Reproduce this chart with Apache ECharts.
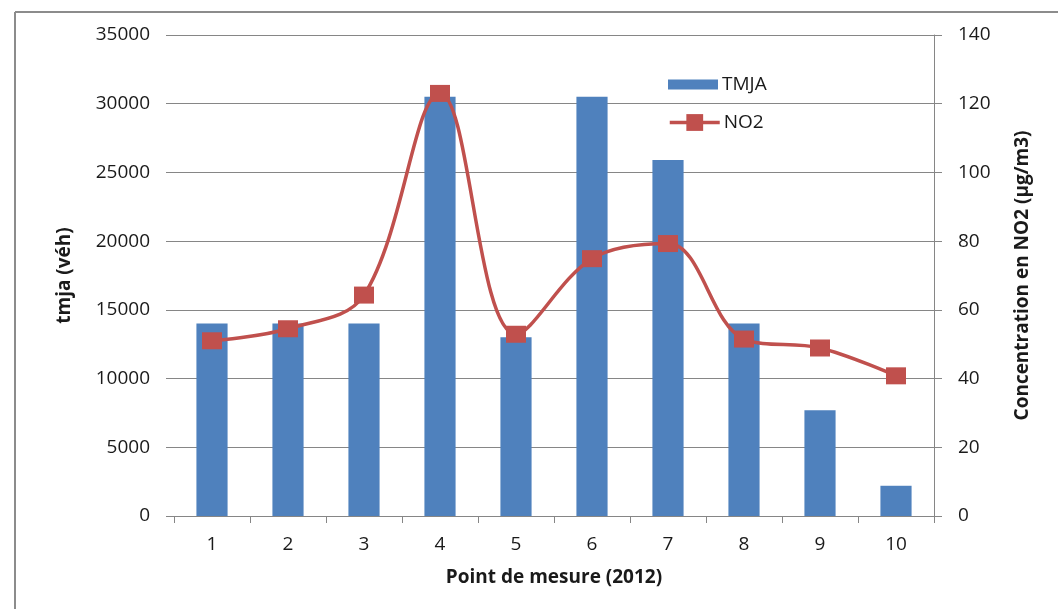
<!DOCTYPE html>
<html>
<head>
<meta charset="utf-8">
<script src="https://cdn.jsdelivr.net/npm/echarts@6/dist/echarts.min.js"></script>
<style>
  html, body { margin: 0; padding: 0; background: #ffffff; }
  #chart { width: 1058px; height: 609px; }
</style>
</head>
<body>
<div id="chart"></div>
<script>
// Measurement points (2012)
const categories = ['1', '2', '3', '4', '5', '6', '7', '8', '9', '10'];
// Average daily traffic (vehicles)
const tmja = [14000, 14000, 14000, 30500, 13000, 30500, 25900, 14000, 7700, 2200];
// NO2 concentration (µg/m3)
const no2 = [51.0, 54.5, 64.3, 123.0, 52.9, 74.9, 79.3, 51.5, 48.9, 40.8];

const FONT = '"Open Sans", "DejaVu Sans", sans-serif';
const GRID_GRAY = '#868686';
const TEXT = '#1a1a1a';
const plain = v => String(v);

const chart = echarts.init(document.getElementById('chart'), null, { renderer: 'canvas' });

chart.setOption({
  animation: false,
  backgroundColor: '#ffffff',
  textStyle: { fontFamily: FONT },
  graphic: [
    // chart frame (top and left edges)
    { type: 'line', shape: { x1: 15, y1: 12, x2: 1058, y2: 12 }, style: { stroke: '#8c8c8c', lineWidth: 2 } },
    { type: 'line', shape: { x1: 15, y1: 12, x2: 15, y2: 609 }, style: { stroke: '#8c8c8c', lineWidth: 2 } }
  ],
  grid: { left: 174, right: 124, top: 35, bottom: 93, containLabel: false },
  legend: [
    {
      data: [{ name: 'TMJA', icon: 'rect' }],
      left: 663, top: 70, orient: 'vertical',
      itemWidth: 50, itemHeight: 10, itemGap: 0,
      textStyle: { fontFamily: FONT, fontSize: 19, color: TEXT, padding: [0, 0, 0, -1] }
    },
    {
      data: ['NO2'],
      left: 663, top: 108, orient: 'vertical',
      itemWidth: 50, itemHeight: 21, itemGap: 0,
      lineStyle: { width: 3.5, color: '#C0504D' },
      textStyle: { fontFamily: FONT, fontSize: 19, color: TEXT, padding: [0, 0, 0, -1] }
    }
  ],
  xAxis: {
    type: 'category',
    data: categories,
    boundaryGap: true,
    name: 'Point de mesure (2012)',
    nameLocation: 'middle',
    nameGap: 52,
    nameTextStyle: { fontFamily: FONT, fontSize: 19, fontWeight: 'bold', color: TEXT },
    axisLine: { show: true, lineStyle: { color: GRID_GRAY, width: 1 } },
    axisTick: { show: true, length: 7, lineStyle: { color: GRID_GRAY } },
    axisLabel: { fontFamily: FONT, fontSize: 19, color: TEXT, margin: 19 },
    splitLine: { show: false }
  },
  yAxis: [
    {
      type: 'value',
      min: 0, max: 35000, interval: 5000,
      name: 'tmja (véh)',
      nameLocation: 'middle',
      nameGap: 100,
      nameRotate: 90,
      nameTextStyle: { fontFamily: FONT, fontSize: 19, fontWeight: 'bold', color: TEXT },
      axisLine: { show: false },
      axisTick: { show: true, length: 8, lineStyle: { color: GRID_GRAY } },
      axisLabel: { fontFamily: FONT, fontSize: 19, color: TEXT, margin: 24, formatter: plain },
      splitLine: { show: true, lineStyle: { color: GRID_GRAY, width: 1 } }
    },
    {
      type: 'value',
      position: 'right',
      min: 0, max: 140, interval: 20,
      name: 'Concentration en NO2 (µg/m3)',
      nameLocation: 'middle',
      nameGap: 79,
      nameRotate: 90,
      nameTextStyle: { fontFamily: FONT, fontSize: 19, fontWeight: 'bold', color: TEXT },
      axisLine: { show: true, lineStyle: { color: GRID_GRAY, width: 1 } },
      axisTick: { show: true, length: 8, lineStyle: { color: GRID_GRAY } },
      axisLabel: { fontFamily: FONT, fontSize: 19, color: TEXT, margin: 24, formatter: plain },
      splitLine: { show: false }
    }
  ],
  series: [
    {
      name: 'TMJA',
      type: 'bar',
      yAxisIndex: 0,
      data: tmja,
      barWidth: '41%',
      itemStyle: { color: '#4F81BD' }
    },
    {
      name: 'NO2',
      type: 'line',
      yAxisIndex: 1,
      data: no2,
      smooth: 0.36,
      symbol: 'rect',
      symbolSize: [20, 17],
      lineStyle: { color: '#C0504D', width: 3.5 },
      itemStyle: { color: '#C0504D' }
    }
  ]
});
</script>
</body>
</html>
